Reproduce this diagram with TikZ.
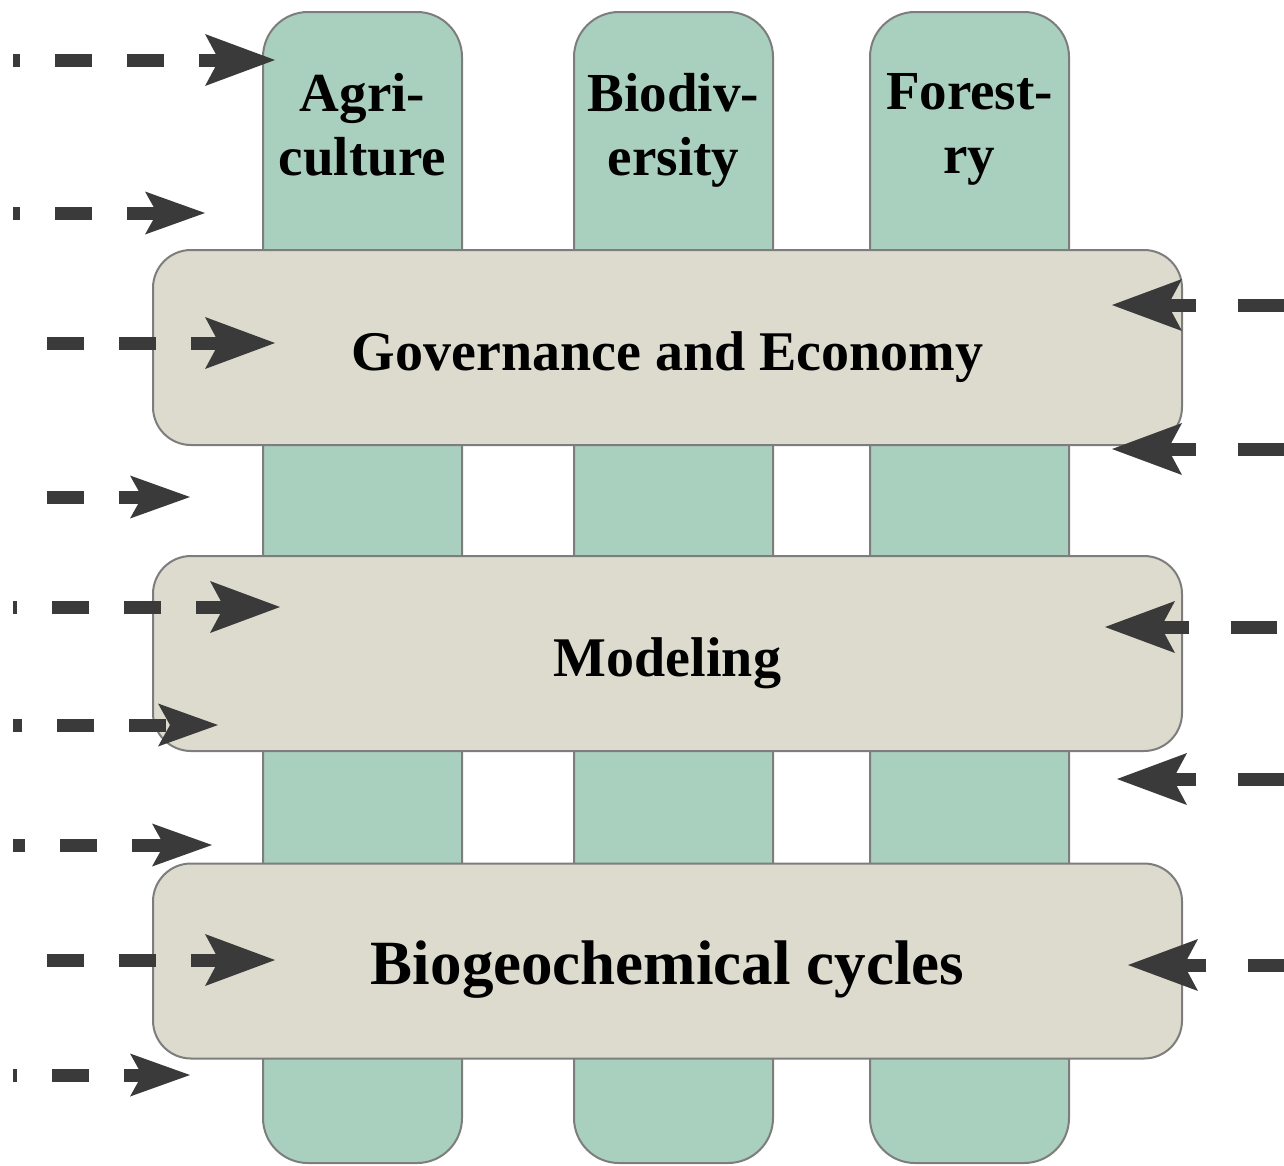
\documentclass[tikz,border=0pt]{standalone}
\usepackage{fontspec}
\setmainfont{Liberation Serif}
\usetikzlibrary{arrows.meta,positioning}

\definecolor{colgreen}{HTML}{A9CFBF}
\definecolor{barbeige}{HTML}{DCDBCE}
\definecolor{edgegray}{HTML}{7D7D7D}
\definecolor{flowgray}{HTML}{3A3A3A}

\begin{document}
\begin{tikzpicture}[x=1pt, y=-1pt,
    colbox/.style={
      draw=edgegray, line width=2pt, fill=colgreen,
      rounded corners=45pt, minimum width=199pt, minimum height=1151pt,
    },
    coltext/.style={
      font=\bfseries\fontsize{55}{64}\selectfont,
      align=center, inner sep=0pt,
    },
    barbox/.style={
      draw=edgegray, line width=2pt, fill=barbeige,
      rounded corners=38pt, minimum width=1029pt, minimum height=195pt,
      font=\bfseries\fontsize{56}{64}\selectfont,
      text height=46pt, text depth=0pt,
    },
    flow/.style={
      draw=flowgray, line width=13pt, dash pattern=on 37pt off 35pt,
      -{Stealth[length=70pt, width=52pt, inset=14pt, line width=0pt]},
    },
    flowsmall/.style={flow, -{Stealth[length=60pt, width=43pt, inset=12pt, line width=0pt]}},
    flowback/.style={flow, dash pattern=on 46pt off 42pt},
  ]
    \useasboundingbox (0,0) rectangle (1284,1165);

    % columns
    \node[colbox] (agri) at (362.5,587.5) {};
    \node[colbox] (biodiv) at (673.5,587.5) {};
    \node[colbox] (forest) at (969.5,587.5) {};
    \node[coltext, below=62pt of agri.north] (agritext) {Agri-\\culture};
    \node[coltext, below=62pt of biodiv.north] (biodivtext) {Biodiv-\\ersity};
    \node[coltext, below=62pt of forest.north] (foresttext) {Forest-\\ry};

    % bars
    \node[barbox] (gov) at (667.5,347.5) {Governance and Economy};
    \node[barbox] (model) at (667.5,653.5) {Modeling};
    \node[barbox, font=\bfseries\fontsize{63}{70}\selectfont] (biogeo) at (667.5,961) {Biogeochemical cycles};

    % inflows from the left
    \foreach \y/\xs/\xt/\sty/\ph [count=\k] in {
      60/13/275/flow/30, 213/13/205/flowsmall/30, 343/47/275/flow/0,
      497/47/190/flowsmall/0, 607/13/280/flow/33, 725/13/218/flowsmall/28,
      845/13/212/flowsmall/25, 960/47/275/flow/0, 1075/13/190/flowsmall/33%
    } {
        \coordinate (lsrc\k) at (\xs,\y);
        \coordinate (ltip\k) at (\xt,\y);
        \draw[\sty, dash phase=\ph pt] (lsrc\k) -- (ltip\k);
    }

    % inflows from the right
    \foreach \y/\xt/\ph [count=\k] in {
      305/1112/0, 449/1112/0, 627/1105/81, 779/1117/0, 965/1128/10%
    } {
        \coordinate (rsrc\k) at (1284,\y);
        \coordinate (rtip\k) at (\xt,\y);
        \draw[flowback, dash phase=\ph pt] (rsrc\k) -- (rtip\k);
    }
\end{tikzpicture}
\end{document}
